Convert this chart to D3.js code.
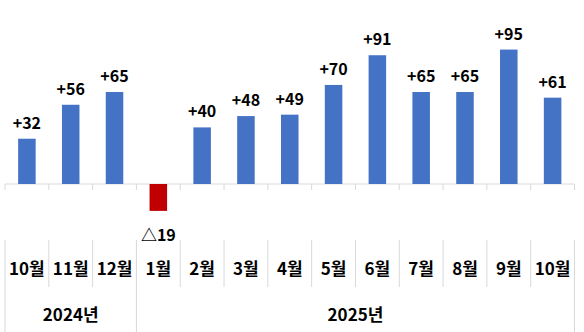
<!DOCTYPE html>
<html>
<head>
<meta charset="utf-8">
<script src="https://cdn.jsdelivr.net/npm/d3@7"></script>
<style>
  body { margin: 0; background: #fff; }
  text { font-family: "Noto Sans CJK KR", "Noto Sans", sans-serif; font-weight: bold; fill: #000; }
</style>
</head>
<body>
<script>
const width = 584,
      height = 332

const months = ['10월', '11월', '12월', '1월', '2월', '3월', '4월', '5월', '6월', '7월', '8월', '9월', '10월']
const keys = months.map((m, i) => i)
const values = [32, 56, 65, -19, 40, 48, 49, 70, 91, 65, 65, 95, 61]
const years = [
    { name: '2024년', from: 0, to: 2 },
    { name: '2025년', from: 3, to: 12 }
]

const svg = d3.select('body').append('svg')
    .attr('width', width)
    .attr('height', height)

const x = d3.scaleBand()
    .domain(keys)
    .range([5, 574.5])
    .paddingInner(0.6)
    .paddingOuter(0.3)

// zero at y=184
const y = d3.scaleLinear()
    .domain([-30, 100])
    .range([226.45, 42.5])

const step = x.step()
const left = i => 5 + i * step

const grid = '#d9d9d9'

// axis line
svg.append('line')
    .attr('x1', left(0)).attr('x2', left(13))
    .attr('y1', y(0)).attr('y2', y(0))
    .style('stroke', grid)

// tick marks at axis
svg.selectAll('.tick')
    .data(d3.range(14))
    .enter()
    .append('line')
    .attr('x1', d => left(d)).attr('x2', d => left(d))
    .attr('y1', y(0)).attr('y2', y(0) + 6)
    .style('stroke', grid)

// table separators
const yearEdges = [0, 3, 13]
svg.selectAll('.sep')
    .data(d3.range(14))
    .enter()
    .append('line')
    .attr('x1', d => left(d)).attr('x2', d => left(d))
    .attr('y1', 240)
    .attr('y2', d => yearEdges.includes(d) ? 332 : 287)
    .style('stroke', grid)

// bars
svg.selectAll('rect')
    .data(values)
    .enter()
    .append('rect')
    .attr('x', (d, i) => x(i))
    .attr('width', x.bandwidth())
    .attr('y', d => d >= 0 ? y(d) : y(0))
    .attr('height', d => Math.abs(y(d) - y(0)))
    .style('fill', d => d >= 0 ? '#4472C4' : '#C00000')

// value labels
svg.selectAll('.val')
    .data(values)
    .enter()
    .append('text')
    .attr('x', (d, i) => x(i) + x.bandwidth() / 2)
    .attr('y', d => d >= 0 ? y(d) - 10 : 241)
    .attr('text-anchor', 'middle')
    .style('font-size', '16px')
    .text(d => d >= 0 ? '+' + d : '△' + Math.abs(d))

// month labels
svg.selectAll('.month')
    .data(months)
    .enter()
    .append('text')
    .attr('x', (d, i) => left(i) + step / 2)
    .attr('y', 269)
    .attr('dy', '0.35em')
    .attr('text-anchor', 'middle')
    .style('font-size', '17px')
    .text(d => d)

// year labels
svg.selectAll('.year')
    .data(years)
    .enter()
    .append('text')
    .attr('x', d => (left(d.from) + left(d.to + 1)) / 2)
    .attr('y', 315)
    .attr('dy', '0.35em')
    .attr('text-anchor', 'middle')
    .style('font-size', '17px')
    .text(d => d.name)
</script>
</body>
</html>
